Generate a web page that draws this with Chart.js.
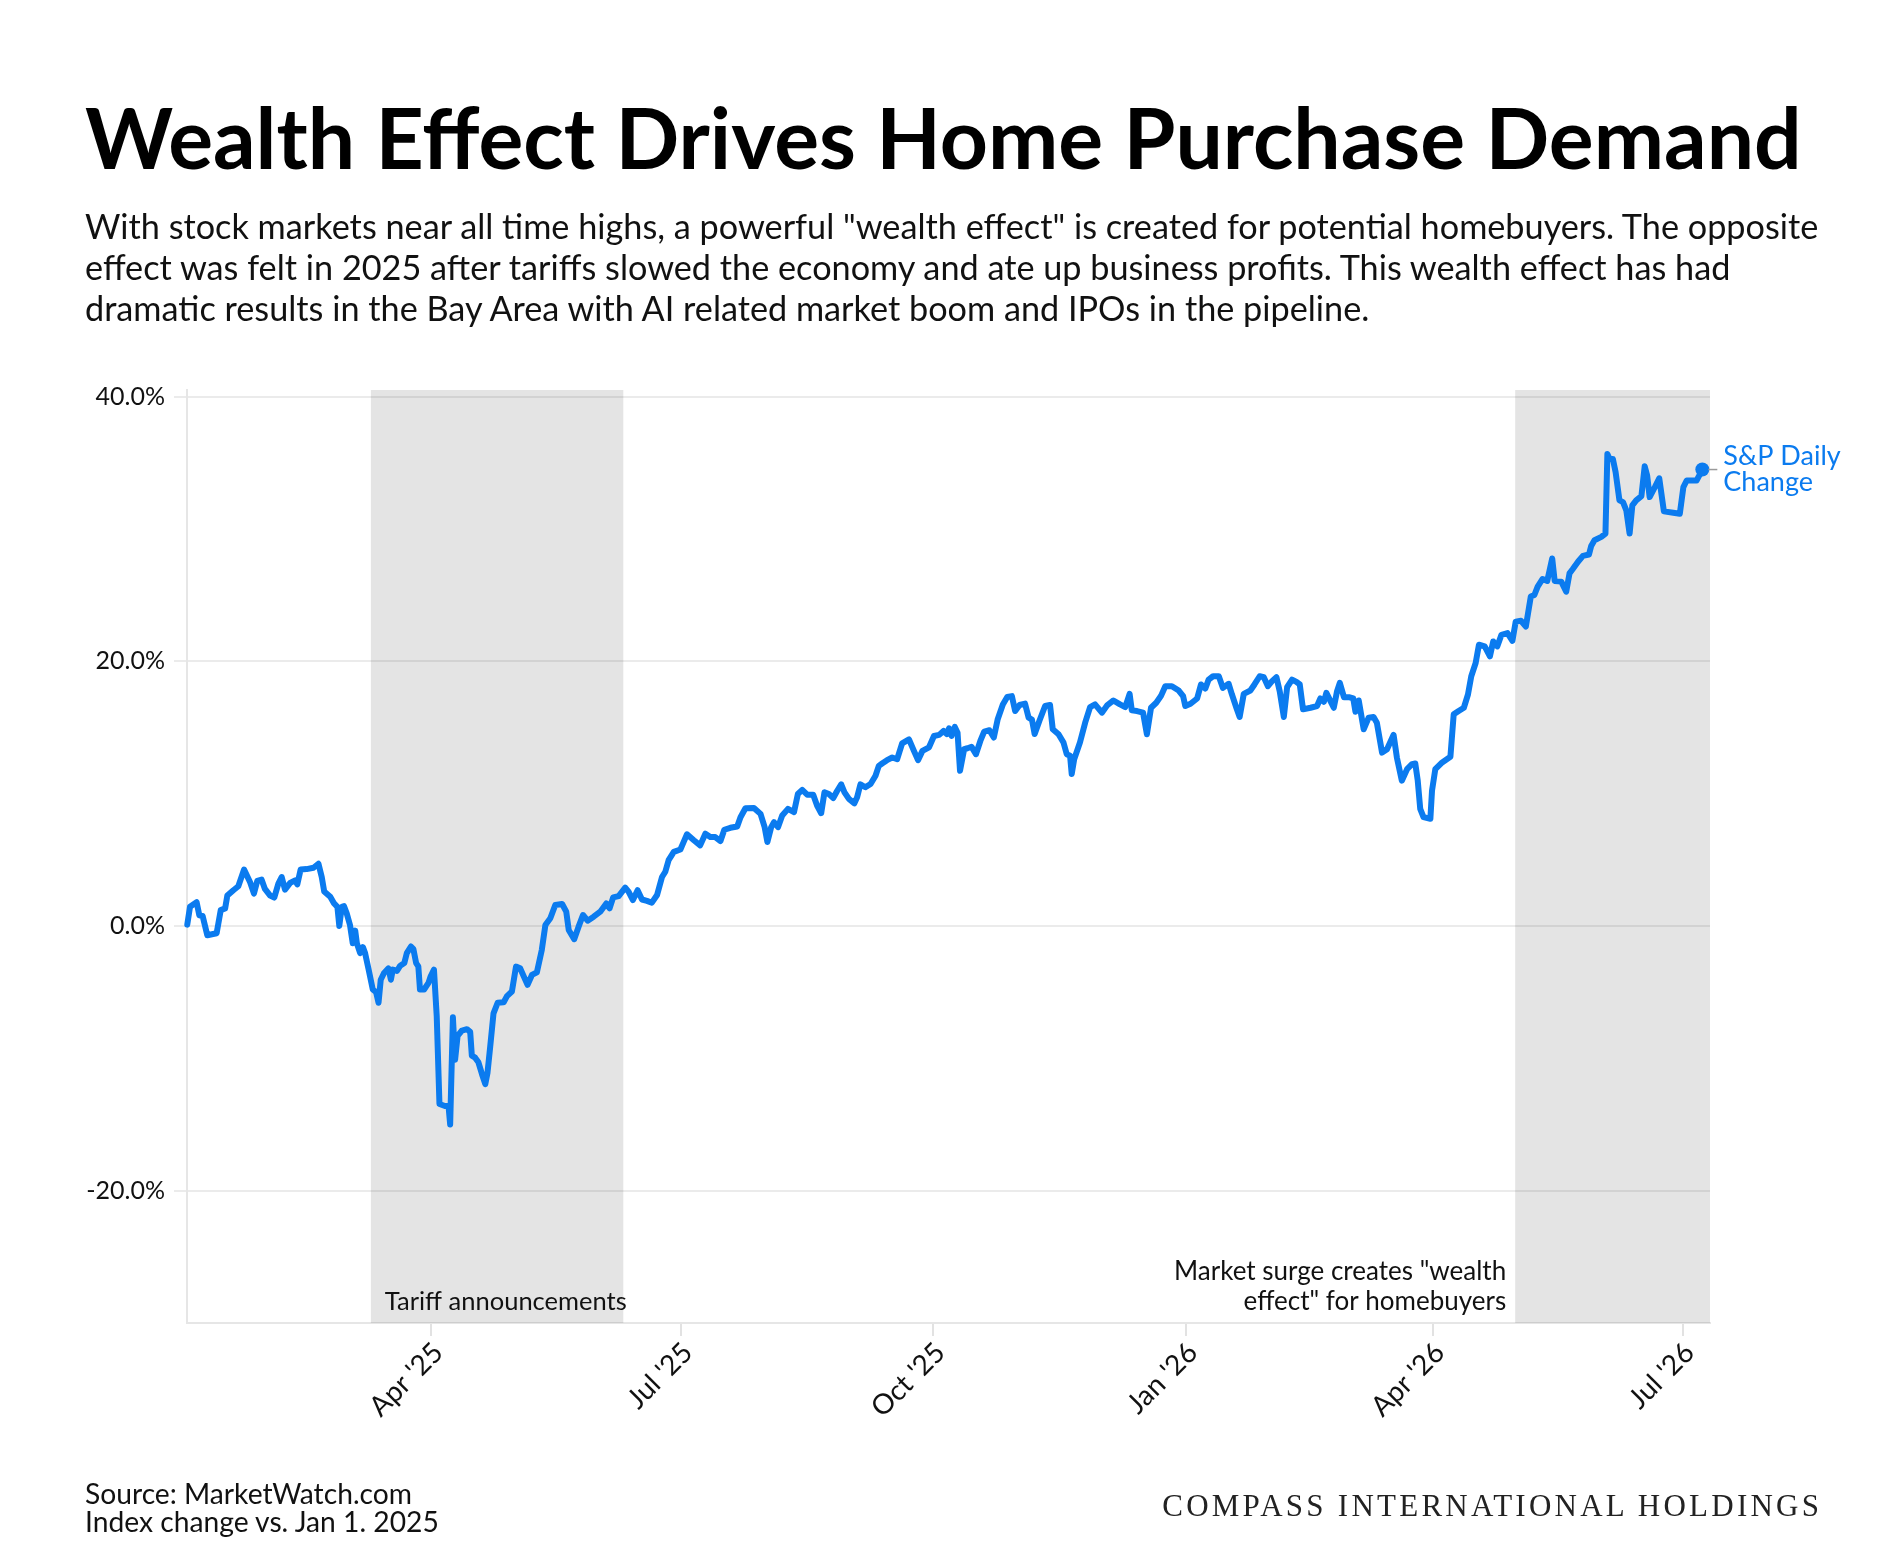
<!DOCTYPE html>
<html>
<head>
<meta charset="utf-8">
<script src="https://cdn.jsdelivr.net/npm/chart.js@4.4.1/dist/chart.umd.min.js"></script>
<style>
  html, body { margin: 0; padding: 0; background: #fff; }
  body { width: 1900px; height: 1568px; position: relative; overflow: hidden; font-family: Lato, "Noto Sans", sans-serif; color: #111; }
  #wrap { position: absolute; left: 0; top: 0; width: 1900px; height: 1568px; }
  .t { position: absolute; white-space: nowrap; line-height: 1; z-index: 2; }
  #title { font-size: 88px; font-weight: 700; color: #000; }
  .sub { font-size: 32px; color: #111; }
  .foot { font-size: 28px; color: #111; }
  #brand { font-family: "Liberation Serif", "DejaVu Serif", serif; font-size: 31px; color: #222; }
</style>
</head>
<body>
<div id="wrap"><canvas id="chart"></canvas></div>

<div class="t" id="title">Wealth Effect Drives Home Purchase Demand</div>
<div class="t sub" id="sub1">With stock markets near all time highs, a powerful "wealth effect" is created for potential homebuyers. The opposite</div>
<div class="t sub" id="sub2">effect was felt in 2025 after tariffs slowed the economy and ate up business profits. This wealth effect has had</div>
<div class="t sub" id="sub3">dramatic results in the Bay Area with AI related market boom and IPOs in the pipeline.</div>
<div class="t foot" id="src1">Source: MarketWatch.com</div>
<div class="t foot" id="src2">Index change vs. Jan 1. 2025</div>
<div class="t" id="brand">COMPASS INTERNATIONAL HOLDINGS</div>

<script>
// days counted from 2025-01-01
const dayOffsets = [
  1.1, 2.1, 4.5, 5.5, 6.7, 8.4, 11.8, 13.3, 14.9, 15.7, 17.9, 19.7, 21.8, 24.0, 25.4, 26.6, 28.2, 29.4,
  31.3, 32.8, 34.3, 35.5, 36.7, 38.6, 40.4, 41.2, 42.4, 44.6, 47.1, 48.9, 50.1, 51.0, 53.2, 54.6, 55.8,
  56.5, 57.4, 58.2, 59.2, 60.4, 61.4, 62.3, 62.9, 64.1, 65.1, 65.9, 67.1, 68.7, 69.9, 70.8, 71.6, 72.8,
  74.4, 75.3, 76.0, 77.5, 78.7, 80.2, 81.1, 82.6, 83.5, 84.5, 85.3, 85.9, 87.4, 89.0, 89.8, 91.0, 92.0,
  93.0, 95.0, 96.3, 96.9, 97.9, 98.7, 99.6, 101.2, 103.0, 104.2, 104.8, 106.0, 107.2, 108.5, 109.7,
  110.5, 111.5, 112.7, 114.2, 116.4, 117.6, 119.4, 120.9, 122.4, 125.1, 126.7, 128.5, 130.3, 131.6,
  133.4, 135.2, 137.7, 139.2, 140.1, 142.1, 143.7, 145.3, 147.0, 149.2, 151.6, 153.8, 155.0, 156.3,
  158.3, 160.7, 161.9, 163.5, 165.2, 166.8, 168.6, 170.4, 172.3, 174.1, 175.3, 176.5, 178.4, 180.8,
  182.0, 183.2, 185.7, 188.0, 189.9, 191.7, 193.5, 195.4, 196.8, 199.0, 201.5, 202.7, 204.5, 207.6,
  210.0, 211.5, 212.5, 213.9, 214.9, 216.4, 217.9, 220.0, 222.2, 223.6, 225.2, 227.0, 229.2, 230.6,
  232.1, 233.3, 234.9, 236.5, 237.9, 239.4, 240.6, 242.2, 244.2, 245.2, 246.4, 248.2, 250.1, 251.9,
  253.1, 254.3, 256.1, 258.0, 259.8, 261.6, 264.1, 265.9, 267.4, 269.0, 271.4, 273.2, 275.1, 276.7,
  277.9, 278.7, 279.6, 280.8, 281.8, 282.7, 284.2, 285.4, 286.9, 288.5, 290.1, 291.5, 293.4, 295.0,
  296.4, 298.3, 299.9, 301.6, 302.8, 304.4, 306.4, 307.7, 308.9, 309.9, 311.6, 313.7, 315.5, 316.5,
  318.6, 320.4, 321.6, 322.8, 323.4, 324.3, 326.4, 328.3, 330.1, 331.9, 334.4, 336.4, 338.6, 341.0,
  342.9, 344.5, 345.3, 347.2, 349.4, 350.8, 352.3, 354.2, 355.9, 357.5, 359.9, 362.4, 364.0, 364.8,
  366.7, 369.1, 370.5, 372.1, 373.3, 374.9, 377.0, 378.5, 380.6, 381.8, 383.4, 384.6, 386.1, 388.5,
  390.0, 391.9, 393.4, 394.9, 396.4, 398.0, 399.2, 400.7, 401.9, 403.7, 405.3, 406.5, 407.7, 410.4,
  412.8, 414.0, 415.3, 416.2, 417.7, 418.9, 420.1, 421.1, 422.6, 424.4, 426.0, 426.8, 428.0, 429.8,
  431.6, 433.4, 434.6, 436.5, 438.3, 440.7, 441.9, 443.7, 445.6, 447.4, 448.6, 449.5, 450.4, 451.6,
  454.1, 454.7, 455.9, 458.4, 461.4, 462.6, 464.4, 466.3, 467.8, 469.0, 470.6, 471.8, 473.9, 475.8,
  477.0, 478.5, 480.0, 482.2, 484.0, 485.2, 487.1, 488.9, 490.7, 492.0, 493.2, 495.0, 496.7, 498.5,
  499.4, 501.8, 503.6, 504.8, 506.0, 507.9, 509.7, 511.9, 512.7, 513.9, 516.4, 517.9, 518.6, 519.4,
  520.6, 521.6, 523.0, 524.3, 525.5, 526.7, 527.7, 529.1, 531.0, 532.2, 533.1, 534.0, 535.9, 537.5,
  539.2, 542.6, 545.0, 546.3, 547.5, 551.1, 552.4, 553.2
];

// S&P 500 change vs Jan 1 2025, percent
const spChange = [
  0.1, 1.45, 1.8, 0.8, 0.75, -0.7, -0.55, 1.2, 1.33, 2.3, 2.7, 3.0, 4.26, 3.3, 2.45, 3.4, 3.5, 2.8,
  2.3, 2.15, 3.2, 3.7, 2.75, 3.26, 3.45, 3.15, 4.26, 4.3, 4.4, 4.7, 3.7, 2.6, 2.2, 1.7, 1.45,
  0.0, 1.45, 1.5, 0.95, 0.07, -1.3, -0.35, -1.3, -2.05, -1.6, -2.05, -3.2, -4.8, -5.0, -5.8, -4.06, -3.55,
  -3.2, -4.06, -3.3, -3.4, -3.0, -2.8, -2.05, -1.55, -1.75, -2.8, -3.05, -4.8, -4.8, -4.3, -3.8, -3.3, -6.8,
  -13.45, -13.6, -13.6, -15.0, -6.9, -10.1, -8.3, -7.9, -7.8, -8.0, -9.8, -9.95, -10.3, -11.2, -11.95,
  -11.1, -9.1, -6.6, -5.8, -5.76, -5.3, -4.95, -3.07, -3.2, -4.45, -3.7, -3.5, -1.8, 0.07,
  0.58, 1.58, 1.66, 1.08, -0.3, -1.0, -0.05, 0.83, 0.4, 0.7, 1.08, 1.7, 1.33, 2.16,
  2.26, 2.9, 2.6, 1.96, 2.7, 2.0, 1.9, 1.76, 2.34, 3.7, 4.1, 4.97, 5.6, 5.78,
  6.36, 6.93, 6.48, 6.09, 6.97, 6.72, 6.72, 6.42, 7.27, 7.42, 7.52, 8.22, 8.9, 8.92,
  8.47, 7.47, 6.34, 7.47, 7.84, 7.47, 8.35, 8.85, 8.6, 9.97, 10.28, 9.92, 9.92, 9.1,
  8.52, 10.1, 9.97, 9.67, 10.2, 10.7, 10.1, 9.6, 9.27, 9.72, 10.7, 10.48, 10.73, 11.35,
  12.1, 12.28, 12.53, 12.73, 12.6, 13.8, 14.1, 13.23, 12.53, 13.23, 13.5, 14.36, 14.44, 14.74,
  14.5, 14.94, 14.36, 15.04, 14.6, 11.73, 13.36, 13.43, 13.53, 12.98, 13.98, 14.69, 14.79, 14.24,
  15.6, 16.74, 17.3, 17.37, 16.24, 16.7, 16.8, 15.74, 15.6, 14.5, 15.49, 16.62, 16.7, 14.86,
  14.49, 13.86, 12.98, 12.86, 11.48, 12.6, 13.86, 15.36, 16.54, 16.74, 16.12, 16.69, 17.04, 16.74,
  16.54, 17.54, 16.29, 16.24, 16.12, 14.49, 16.49, 16.87, 17.37, 18.12, 18.12, 17.79, 17.37, 16.62,
  16.79, 17.19, 18.25, 17.94, 18.62, 18.87, 18.87, 17.99, 18.3, 17.49, 16.49, 15.79, 17.54, 17.79,
  18.25, 18.87, 18.8, 18.12, 18.5, 18.8, 17.74, 15.79, 18.04, 18.62, 18.45, 18.25, 16.37, 16.49,
  16.62, 17.19, 16.94, 17.62, 16.99, 16.49, 17.74, 18.37, 17.29, 17.29, 17.19, 16.19, 17.04, 14.86,
  15.74, 15.79, 15.36, 13.1, 13.36, 14.44, 12.73, 10.98, 11.85, 12.23, 12.28, 10.98, 8.85, 8.22,
  8.1, 10.23, 11.85, 12.36, 12.78, 15.99, 16.24, 16.49, 17.49, 18.87, 19.87, 21.25, 21.13, 20.38,
  21.5, 21.13, 22.0, 22.13, 21.55, 23.0, 23.06, 22.63, 24.89, 25.01, 25.64, 26.22, 26.07, 27.77,
  26.07, 26.02, 25.26, 26.64, 26.97, 27.52, 27.97, 28.07, 28.72, 29.15, 29.4, 29.65, 35.66, 35.29,
  35.29, 34.29, 32.16, 32.03, 31.4, 29.65, 31.78, 32.16, 32.48, 34.74, 34.04, 32.41, 33.16, 33.83,
  31.33, 31.23, 31.15, 33.16, 33.66, 33.66, 34.16, 34.49
];

const tickDays = [90, 181, 273, 365, 455, 546];
const tickLabels = ["Apr '25", "Jul '25", "Oct '25", "Jan '26", "Apr '26", "Jul '26"];
const yTickValues = [-20, 0, 20, 40];

const bandStarts = [68, 485];
const bandEnds = [160, 556];
const tariffNote = ["Tariff announcements"];
const surgeNote = ['Market surge creates "wealth', 'effect" for homebuyers'];
const seriesName = ["S&P Daily", "Change"];

const BLUE = "#0B7BEF";
const FONT = "Lato, 'Noto Sans', sans-serif";

// put html text on its baseline and stretch it to the reference width
function placeText(id, left, baseline, width, alignRight) {
  const el = document.getElementById(id);
  if (width) {
    const fs = parseFloat(getComputedStyle(el).fontSize);
    const w = el.getBoundingClientRect().width;
    el.style.fontSize = (fs * width / w) + "px";
  }
  const m = document.createElement("span");
  m.style.display = "inline-block";
  m.style.width = "0";
  m.style.height = "0";
  el.appendChild(m);
  const off = m.getBoundingClientRect().top - el.getBoundingClientRect().top;
  el.removeChild(m);
  el.style.top = (baseline - off) + "px";
  el.style.left = (alignRight ? left - el.getBoundingClientRect().width : left) + "px";
}

function layoutText() {
  placeText("title", 85, 169, 1717);
  const subEl = document.getElementById("sub1");
  placeText("sub1", 85, 239, 1734);
  const subSize = subEl.style.fontSize;
  ["sub2", "sub3"].forEach(id => { document.getElementById(id).style.fontSize = subSize; });
  placeText("sub2", 85, 280);
  placeText("sub3", 85, 321);
  placeText("src1", 85, 1504, 327);
  document.getElementById("src2").style.fontSize = document.getElementById("src1").style.fontSize;
  placeText("src2", 85, 1532);

  const brand = document.getElementById("brand");
  const w0 = brand.getBoundingClientRect().width;
  const n = brand.textContent.length;
  const ls = (660 - w0) / n;
  brand.style.letterSpacing = ls + "px";
  placeText("brand", 1819 + ls, 1516, 0, true);
}

const bandPlugin = {
  id: "bands",
  beforeDatasetsDraw(chart) {
    const { ctx, chartArea, scales } = chart;
    ctx.save();
    ctx.fillStyle = "rgba(0,0,0,0.105)";
    bandStarts.forEach((s, i) => {
      const x0 = scales.x.getPixelForValue(s);
      const x1 = scales.x.getPixelForValue(bandEnds[i]);
      ctx.fillRect(x0, chartArea.top, x1 - x0, chartArea.bottom - chartArea.top);
    });
    ctx.restore();
  },
  afterDatasetsDraw(chart) {
    const { ctx, chartArea, scales } = chart;
    ctx.save();
    ctx.font = "25.5px " + FONT;
    ctx.fillStyle = "#111";
    ctx.textBaseline = "alphabetic";

    ctx.textAlign = "left";
    const bx = scales.x.getPixelForValue(bandStarts[0]) + 14;
    tariffNote.forEach((line, i) => ctx.fillText(line, bx, chartArea.bottom - 13 - (tariffNote.length - 1 - i) * 30));

    ctx.font = "26px " + FONT;
    ctx.textAlign = "right";
    const sx = scales.x.getPixelForValue(bandStarts[1]) - 9;
    surgeNote.forEach((line, i) => ctx.fillText(line, sx, chartArea.bottom - 13 - (surgeNote.length - 1 - i) * 30));

    // end label
    const meta = chart.getDatasetMeta(0);
    const last = meta.data[meta.data.length - 1];
    ctx.strokeStyle = "#9a9a9a";
    ctx.lineWidth = 1.5;
    ctx.beginPath();
    ctx.moveTo(last.x + 6, last.y);
    ctx.lineTo(last.x + 15, last.y);
    ctx.stroke();
    ctx.fillStyle = BLUE;
    ctx.textAlign = "left";
    ctx.textBaseline = "middle";
    ctx.font = "27px " + FONT;
    ctx.fillText(seriesName[0], last.x + 21, last.y - 13);
    ctx.fillText(seriesName[1], last.x + 21, last.y + 13);
    ctx.restore();
  }
};

function drawChart() {
  const points = dayOffsets.map((d, i) => ({ x: d, y: spChange[i] }));
  new Chart(document.getElementById("chart"), {
    type: "line",
    data: {
      datasets: [{
        label: "S&P Daily Change",
        data: points,
        borderColor: BLUE,
        backgroundColor: BLUE,
        borderWidth: 6,
        borderJoinStyle: "round",
        borderCapStyle: "round",
        tension: 0,
        pointRadius: c => (c.dataIndex === points.length - 1 ? 7 : 0),
        pointHoverRadius: 0,
        pointBackgroundColor: BLUE,
        pointBorderWidth: 0,
        clip: false
      }]
    },
    options: {
      responsive: true,
      maintainAspectRatio: false,
      animation: false,
      devicePixelRatio: 1,
      layout: { padding: { left: 0, top: 390, right: 190, bottom: 135 } },
      plugins: { legend: { display: false }, tooltip: { enabled: false } },
      scales: {
        x: {
          type: "linear",
          min: 1,
          max: 556,
          afterBuildTicks: s => { s.ticks = tickDays.map(v => ({ value: v })); },
          afterFit: s => { s.height = 110; },
          ticks: {
            autoSkip: false,
            minRotation: 45,
            maxRotation: 45,
            padding: 0,
            labelOffset: 7,
            color: "#111",
            font: { family: FONT, size: 28 },
            callback: (v, i) => tickLabels[i]
          },
          grid: { drawOnChartArea: false, drawTicks: true, tickLength: 13, color: "#e2e2e2", lineWidth: 2 },
          border: { display: true, color: "#e6e6e6", width: 2 }
        },
        y: {
          min: -30,
          max: 40.5,
          afterBuildTicks: s => { s.ticks = yTickValues.map(v => ({ value: v })); },
          afterFit: s => { s.width = 187; },
          ticks: {
            padding: 9,
            color: "#111",
            font: { family: FONT, size: 25 },
            callback: v => v.toFixed(1) + "%"
          },
          grid: { color: "#ebebeb", lineWidth: 2, tickLength: 13, drawTicks: true },
          border: { display: true, color: "#e6e6e6", width: 2 }
        }
      }
    },
    plugins: [bandPlugin]
  });
}

document.fonts.ready.then(() => {
  layoutText();
  drawChart();
});
</script>
</body>
</html>
